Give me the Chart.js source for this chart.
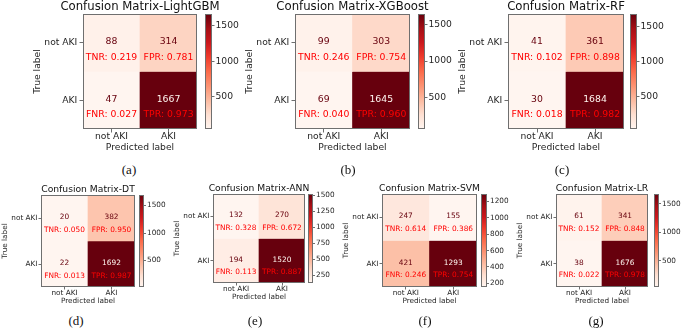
<!DOCTYPE html>
<html lang="en">
<head>
<meta charset="UTF-8" />
<title>Confusion matrices</title>
<script src="https://cdn.jsdelivr.net/npm/chart.js"></script>
<style>
  html, body { margin: 0; padding: 0; background: #fff; }
  #page { position: relative; width: 683px; height: 330px; overflow: hidden; background: #fff; }
  #page canvas { position: absolute; }
  .cap { position: absolute; font-family: 'Liberation Serif', serif; font-size: 13px; color: #111;
         transform: translate(-50%, -50%); white-space: nowrap; }
</style>
</head>
<body>
<div id="page"></div>
<script>
  // --- data ---
  const models = ['LightGBM', 'XGBoost', 'RF', 'DT', 'ANN', 'SVM', 'LR'];
  const captions = ['(a)', '(b)', '(c)', '(d)', '(e)', '(f)', '(g)'];
  const classLabels = ['not AKI', 'AKI'];
  const tn = [88, 99, 41, 20, 132, 247, 61];
  const fp = [314, 303, 361, 382, 270, 155, 341];
  const fn = [47, 69, 30, 22, 194, 421, 38];
  const tp = [1667, 1645, 1684, 1692, 1520, 1293, 1676];
  const tnr = ['0.219', '0.246', '0.102', '0.050', '0.328', '0.614', '0.152'];
  const fpr = ['0.781', '0.754', '0.898', '0.950', '0.672', '0.386', '0.848'];
  const fnr = ['0.027', '0.040', '0.018', '0.013', '0.113', '0.246', '0.022'];
  const tpr = ['0.973', '0.960', '0.982', '0.987', '0.887', '0.754', '0.978'];
  const cbTicks = [
    [500, 1000, 1500], [500, 1000, 1500], [500, 1000, 1500], [500, 1000, 1500],
    [250, 500, 750, 1000, 1250, 1500], [200, 400, 600, 800, 1000, 1200], [500, 1000, 1500]
  ];

  // --- layout (pixels) ---
  const panels = [
    { L: 83,  T: 14,  W: 114, H: 115, cbL: 205, cbW: 7, row: 0, capX: 129, capY: 170 },
    { L: 295, T: 14,  W: 115, H: 115, cbL: 418, cbW: 7, row: 0, capX: 348, capY: 170 },
    { L: 508, T: 14,  W: 116, H: 115, cbL: 630, cbW: 7, row: 0, capX: 562, capY: 170 },
    { L: 41,  T: 195, W: 94,  H: 92,  cbL: 139, cbW: 5, row: 1, capX: 76,  capY: 321 },
    { L: 213, T: 194, W: 92,  H: 89,  cbL: 308, cbW: 5, row: 1, capX: 255, capY: 321 },
    { L: 382, T: 194, W: 95,  H: 93,  cbL: 481, cbW: 6, row: 1, capX: 425, capY: 321 },
    { L: 556, T: 194, W: 92,  H: 93,  cbL: 654, cbW: 5, row: 1, capX: 596, capY: 321 }
  ];
  const rowStyle = [
    { title: 11.7, label: 9.2, cell: 9.3, tick: 3.5, yW: 55, xH: 26, top: 14, tPad: 0.85,
      yTitlePad: 5.4, yTickPad: 2.2, xTickPad: 0, xTitlePad: 2.4, cbYW: 32, cbTick: 2.5, cbPad: 1 },
    { title: 9.2, label: 7.3, cell: 7.4, tick: 2.5, yW: 45, xH: 20, top: 12, tPad: 1.1,
      yTitlePad: 5.85, yTickPad: 1, xTickPad: 0, xTitlePad: 2.35, cbYW: 26, cbTick: 2, cbPad: 1 }
  ];

  const FONT = 'DejaVu Sans';
  const TEXT = '#262626';
  const EDGE = '#6f6f6f';
  // matplotlib "Reds"
  const REDS = ['#fff5f0', '#fee0d2', '#fcbba1', '#fc9272', '#fb6a4a', '#ef3b2c', '#cb181d', '#a50f15', '#67000d'];

  function hex(c) { return [1, 3, 5].map(i => parseInt(c.slice(i, i + 2), 16)); }
  function reds(t) {
    t = Math.max(0, Math.min(1, t));
    const p = t * (REDS.length - 1);
    const i = Math.min(Math.floor(p), REDS.length - 2);
    const f = p - i;
    const a = hex(REDS[i]), b = hex(REDS[i + 1]);
    const m = a.map((v, k) => Math.round(v + (b[k] - v) * f));
    return `rgb(${m[0]},${m[1]},${m[2]})`;
  }

  Chart.defaults.font.family = FONT;
  Chart.defaults.color = TEXT;

  const frame = {
    id: 'frame',
    afterDraw(chart) {
      const { ctx, chartArea: a } = chart;
      ctx.save();
      ctx.strokeStyle = EDGE;
      ctx.lineWidth = 1;
      ctx.strokeRect(a.left + 0.5, a.top + 0.5, a.right - a.left - 1, a.bottom - a.top - 1);
      ctx.restore();
    }
  };

  const page = document.getElementById('page');
  function addCanvas(left, top, w, h) {
    const c = document.createElement('canvas');
    c.width = w; c.height = h;
    c.style.left = left + 'px'; c.style.top = top + 'px';
    c.style.width = w + 'px'; c.style.height = h + 'px';
    page.appendChild(c);
    return c;
  }

  const nRows = classLabels.length;

  panels.forEach((p, k) => {
    const s = rowStyle[p.row];
    const counts = [[tn[k], fp[k]], [fn[k], tp[k]]];
    const rates = [['TNR: ' + tnr[k], 'FPR: ' + fpr[k]], ['FNR: ' + fnr[k], 'TPR: ' + tpr[k]]];
    const all = counts.flat();
    const vmin = Math.min(...all), vmax = Math.max(...all);
    const thresh = (vmin + vmax) / 2;

    // ---- matrix ----
    const cw = s.yW * 2 + p.W;
    const ch = s.top + p.H + s.xH;
    const canvas = addCanvas(p.L - s.yW, p.T - s.top, cw, ch);
    const titleH = s.title + s.tPad;

    const cellText = {
      id: 'cellText',
      afterDatasetsDraw(chart) {
        const { ctx } = chart;
        const xs = chart.scales.x, ys = chart.scales.y;
        ctx.save();
        ctx.textAlign = 'center';
        ctx.textBaseline = 'middle';
        ctx.font = `${s.cell}px "${FONT}"`;
        counts.forEach((row, r) => row.forEach((v, c) => {
          const x = xs.getPixelForValue(c);
          const yc = ys.getPixelForValue(nRows - 1 - r + 0.5);
          ctx.fillStyle = v >= thresh ? REDS[0] : REDS[REDS.length - 1];
          ctx.fillText(String(v), x, yc - 1);
          ctx.fillStyle = '#ff0000';
          ctx.fillText(rates[r][c], x, yc + s.cell * 1.58);
        }));
        ctx.restore();
      }
    };

    new Chart(canvas, {
      type: 'bar',
      data: {
        labels: classLabels,
        datasets: classLabels.map((lab, r) => ({
          label: lab,
          data: classLabels.map(() => [nRows - 1 - r, nRows - r]),
          backgroundColor: counts[r].map(v => reds((v - vmin) / (vmax - vmin))),
          borderWidth: 0,
          barPercentage: 1,
          categoryPercentage: 1
        }))
      },
      options: {
        responsive: false,
        animation: false,
        events: [],
        layout: { padding: { top: s.top - titleH, left: 0, right: 0, bottom: 0 } },
        plugins: {
          legend: { display: false },
          tooltip: { enabled: false },
          title: {
            display: true,
            text: 'Confusion Matrix-' + models[k],
            color: '#111',
            font: { size: s.title, weight: 'normal', lineHeight: 1 },
            padding: { top: 0, bottom: s.tPad }
          }
        },
        scales: {
          x: {
            type: 'category',
            stacked: true,
            offset: true,
            grid: { offset: false, drawOnChartArea: false, tickLength: s.tick, color: EDGE },
            border: { display: false },
            ticks: { font: { size: s.label, lineHeight: 1 }, padding: s.xTickPad, color: TEXT, maxRotation: 0 },
            title: { display: true, text: 'Predicted label', color: TEXT,
                     font: { size: s.label, lineHeight: 1 }, padding: { top: 0, bottom: s.xTitlePad } },
            afterFit(sc) { sc.height = s.xH; }
          },
          y: {
            type: 'linear',
            stacked: false,
            min: 0,
            max: nRows,
            grid: { drawOnChartArea: false, tickLength: s.tick, color: EDGE },
            border: { display: false },
            afterBuildTicks(sc) { sc.ticks = classLabels.map((_, r) => ({ value: nRows - 1 - r + 0.5 })); },
            ticks: {
              font: { size: s.label, lineHeight: 1 }, padding: s.yTickPad, color: TEXT,
              callback: v => classLabels[nRows - 1 - Math.floor(v)]
            },
            title: { display: true, text: 'True label', color: TEXT,
                     font: { size: s.label, lineHeight: 1 }, padding: { top: s.yTitlePad, bottom: 0 } },
            afterFit(sc) { sc.width = s.yW; }
          },
          // empty right-hand box so the title is centred over the matrix
          pad: {
            type: 'linear', position: 'right', display: true,
            ticks: { display: false }, grid: { display: false }, border: { display: false },
            afterFit(sc) { sc.width = s.yW; }
          }
        }
      },
      plugins: [cellText, frame]
    });

    // ---- colour bar ----
    const cbCanvas = addCanvas(p.cbL, p.T - 6, p.cbW + s.cbYW, p.H + 12);
    new Chart(cbCanvas, {
      type: 'bar',
      data: {
        labels: [''],
        datasets: [{
          data: [[vmin, vmax]],
          backgroundColor(ctx) {
            const a = ctx.chart.chartArea;
            if (!a) return REDS[0];
            const g = ctx.chart.ctx.createLinearGradient(0, a.bottom, 0, a.top);
            REDS.forEach((c, i) => g.addColorStop(i / (REDS.length - 1), c));
            return g;
          },
          borderWidth: 0,
          barPercentage: 1,
          categoryPercentage: 1
        }]
      },
      options: {
        responsive: false,
        animation: false,
        events: [],
        layout: { padding: { top: 6, bottom: 6, left: 0, right: 0 } },
        plugins: { legend: { display: false }, tooltip: { enabled: false } },
        scales: {
          x: { display: false },
          y: {
            position: 'right',
            min: vmin,
            max: vmax,
            grid: { drawOnChartArea: false, tickLength: s.cbTick, color: EDGE },
            border: { display: false },
            afterBuildTicks(sc) { sc.ticks = cbTicks[k].map(v => ({ value: v })); },
            ticks: { font: { size: s.label, lineHeight: 1 }, padding: s.cbPad, color: TEXT,
                     callback: v => String(v) },
            afterFit(sc) { sc.width = s.cbYW; }
          }
        }
      },
      plugins: [frame]
    });

    const cap = document.createElement('div');
    cap.className = 'cap';
    cap.textContent = captions[k];
    cap.style.left = p.capX + 'px';
    cap.style.top = p.capY + 'px';
    page.appendChild(cap);
  });
</script>
</body>
</html>
